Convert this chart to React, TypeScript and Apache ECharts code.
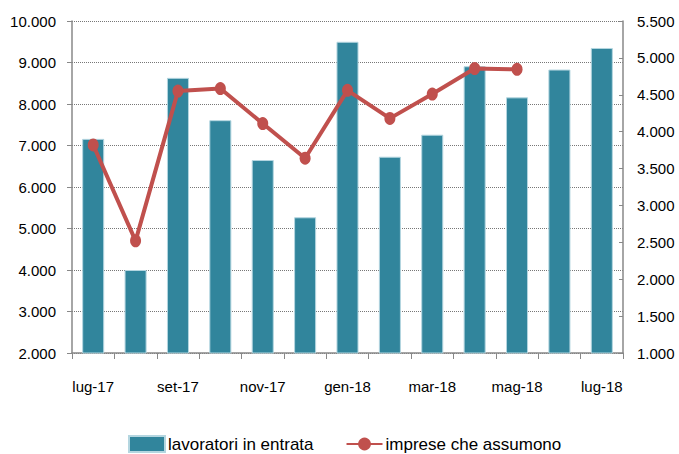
import React, { useEffect, useRef } from "react";
import * as echarts from "echarts";

const categories = [
  "lug-17", "ago-17", "set-17", "ott-17", "nov-17", "dic-17",
  "gen-18", "feb-18", "mar-18", "apr-18", "mag-18", "giu-18", "lug-18",
];
const lavoratori = [7160, 4000, 8630, 7610, 6650, 5270, 9500, 6730, 7260, 8910, 8160, 8830, 9350];
const imprese = [3820, 2520, 4550, 4585, 4110, 3640, 4560, 4180, 4510, 4855, 4845, null, null];
const leftTicks = { min: 2000, max: 10000, interval: 1000 };
const rightTicks = { min: 1000, max: 5500, interval: 500 };

const FONT = "'Liberation Sans', Arial, sans-serif";
const fmt = (v: number) => {
  const s = String(Math.round(v));
  return s.replace(/\B(?=(\d{3})+(?!\d))/g, ".");
};

export default function App() {
  const ref = useRef<HTMLDivElement>(null);
  useEffect(() => {
    if (!ref.current) return;
    const chart = echarts.init(ref.current, undefined, { renderer: "svg" });
    chart.setOption({
      animation: false,
      textStyle: { fontFamily: FONT },
      grid: { left: 72, right: 56, top: 21, bottom: 101 },
      legend: {
        left: 128,
        top: 435,
        padding: 0,
        itemWidth: 36,
        itemHeight: 16,
        itemGap: 32,
        textStyle: { fontFamily: FONT, fontSize: 17, color: "#000", padding: [0, 0, 0, -2] },
        data: [
          { name: "lavoratori in entrata", icon: "rect" },
          { name: "imprese che assumono" },
        ],
      },
      xAxis: {
        type: "category",
        data: categories,
        axisLine: { lineStyle: { color: "#888", width: 1.5 } },
        axisTick: { show: true, interval: 0, length: 6, lineStyle: { color: "#888" } },
        axisLabel: { interval: 1, margin: 26, fontSize: 15, color: "#000", fontFamily: FONT },
      },
      yAxis: [
        {
          type: "value",
          min: leftTicks.min,
          max: leftTicks.max,
          interval: leftTicks.interval,
          axisLine: { show: true, lineStyle: { color: "#888", width: 1.5 } },
          axisTick: { show: true, length: 5, lineStyle: { color: "#888" } },
          axisLabel: { margin: 16, fontSize: 15, color: "#000", fontFamily: FONT, formatter: fmt },
          splitLine: { show: true, lineStyle: { type: "dotted", color: "#777", width: 1 } },
        },
        {
          type: "value",
          min: rightTicks.min,
          max: rightTicks.max,
          interval: rightTicks.interval,
          position: "right",
          axisLine: { show: true, lineStyle: { color: "#888", width: 1.5 } },
          axisTick: { show: true, inside: true, length: 4, lineStyle: { color: "#888" } },
          axisLabel: { margin: 14, fontSize: 15, color: "#000", fontFamily: FONT, formatter: fmt },
          splitLine: { show: false },
        },
      ],
      series: [
        {
          name: "lavoratori in entrata",
          type: "bar",
          yAxisIndex: 0,
          data: lavoratori,
          barWidth: "52%",
          itemStyle: { color: "#31859C", borderColor: "#b4d6e0", borderWidth: 1 },
        },
        {
          name: "imprese che assumono",
          type: "line",
          yAxisIndex: 1,
          data: imprese,
          symbol: "circle",
          symbolSize: [11, 13],
          lineStyle: { color: "#C0504D", width: 4 },
          itemStyle: { color: "#C0504D" },
        },
      ],
    });
    return () => chart.dispose();
  }, []);
  return (
    <div
      ref={ref}
      style={{ position: "absolute", left: 0, top: 0, width: 679, height: 454 }}
    />
  );
}
